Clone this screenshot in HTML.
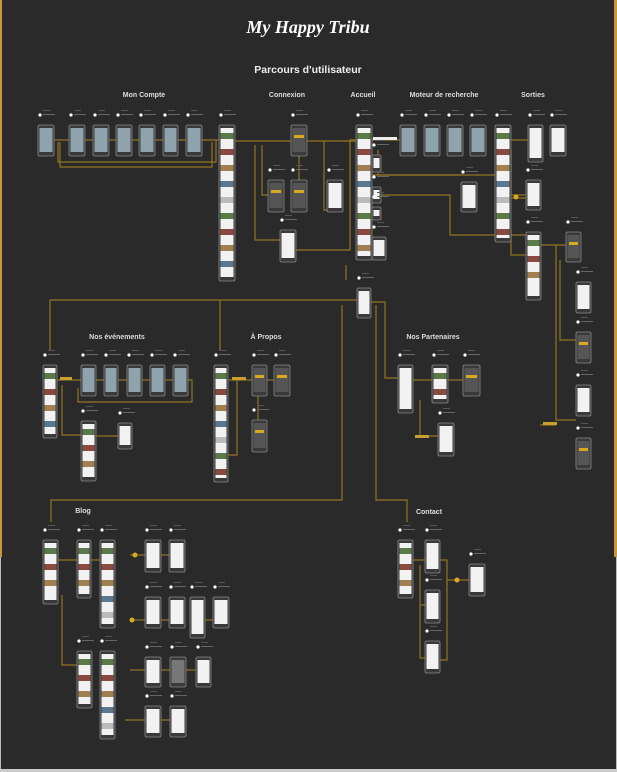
<!DOCTYPE html>
<html><head><meta charset="utf-8"><style>
html,body{margin:0;padding:0;background:#2a2a2a;width:617px;height:772px;overflow:hidden}
svg{display:block}
</style></head><body>
<svg id="s" width="617" height="772" viewBox="0 0 617 772" xmlns="http://www.w3.org/2000/svg" font-family="Liberation Sans, sans-serif">
<rect x="0" y="0" width="617" height="772" fill="#2a2a2a"/>
<rect x="0" y="0" width="2" height="557" fill="#c9963c"/>
<rect x="614" y="0" width="3" height="557" fill="#c9963c"/>
<rect x="0" y="557" width="1" height="215" fill="#bbb"/>
<rect x="616" y="557" width="1" height="215" fill="#bbb"/>
<rect x="0" y="769" width="617" height="3" fill="#ccc"/>
<text x="308" y="33" text-anchor="middle" fill="#fff" font-family="Liberation Serif, serif" font-style="italic" font-weight="bold" font-size="18">My Happy Tribu</text>
<text x="308" y="73" text-anchor="middle" fill="#eee" font-weight="bold" font-size="10.5">Parcours d'utilisateur</text>
<g fill="#ddd" font-weight="bold" font-size="7" text-anchor="middle">
<text x="144" y="97">Mon Compte</text>
<text x="287" y="97">Connexion</text>
<text x="363" y="97">Accueil</text>
<text x="444" y="97">Moteur de recherche</text>
<text x="533" y="97">Sorties</text>
<text x="117" y="339">Nos événements</text>
<text x="266" y="339">À Propos</text>
<text x="433" y="339">Nos Partenaires</text>
<text x="83" y="513">Blog</text>
<text x="429" y="514">Contact</text>
</g>
<g id="lines" fill="none" stroke="#937420" stroke-width="1.2"></g>
<g id="ph"></g>
</svg>
<script>
var L=document.getElementById('lines'),P=document.getElementById('ph'),NS='http://www.w3.org/2000/svg';
function el(t,a,p){var e=document.createElementNS(NS,t);for(var k in a)e.setAttribute(k,a[k]);(p||P).appendChild(e);return e;}
var lines=[
"M54,140H219","M58,142V162H216V140","M60,142V167H212V142",
"M235,141H291","M307,141H356","M255,145V240H280","M262,145V195H268","M324,141V210H327","M299,156V180",
"M296,250H350V140H356","M372,140H400","M378,150V175H495","M372,175H461","M372,195H450V235H526",
"M511,140H528","M511,150V195H526","M505,198H526","M511,230V255H526","M541,245H566","M556,245V420H576","M560,260V340H576",
"M346,265V280","M50,300H357","M50,300V350","M220,300V350","M371,302H385V378H398","M342,305V500H51V522","M376,305V500H407V522",
"M57,380H81","M96,380H104","M118,380H127","M142,380H150","M165,380H173","M188,380H192V402H78V388",
"M62,385V435H81","M96,436H118","M228,380H252","M237,380V455H228","M258,396V420","M267,380H274",
"M413,380H432","M448,380H463","M420,400V436H438","M540,425H556",
"M58,560H77","M91,560H100","M130,555H145","M161,555H169","M130,620H145","M161,620H169","M205,620H213",
"M62,595V665H77","M130,670H145","M161,670H170","M186,670H196","M125,720H145","M161,720H170",
"M413,560H425","M420,565V605H425","M420,605V658H425","M440,560H447V660H440","M447,580H469"
];
lines.forEach(function(d){el('path',{d:d},L);});
[[60,377,12,3],[81,437,14,3],[232,377,14,3],[415,435,14,3],[543,422,14,3],[373,137,24,3]].forEach(function(b){el('rect',{x:b[0],y:b[1],width:b[2],height:b[3],fill:b[0]==373?'#eee':'#c9a030'});});
[[516,197],[457,580],[135,555],[132,620]].forEach(function(c){el('circle',{cx:c[0],cy:c[1],r:2.5,fill:'#d9a920'});});
var B='#8fa3ad',D='#555',W='#f2f2f2';
var phones=[
[38,54,125,156,B],[69,85,125,156,B],[93,109,125,156,B],[116,132,125,156,B],[139,155,125,156,B],[163,178,125,156,B],[186,202,125,156,B],
[219,235,125,281,'img'],[291,307,125,156,D],[268,284,180,212,D],[291,307,180,212,D],[327,343,180,212,W],[280,296,230,262,W],
[356,372,125,260,'img'],[372,381,155,172,'img'],[372,381,187,203,'img'],[372,381,207,220,'img'],[372,386,237,260,W],
[400,416,125,156,B],[424,440,125,156,B],[447,463,125,156,B],[470,486,125,156,B],
[495,511,125,242,'img'],[528,543,125,162,W],[550,566,125,156,W],[461,477,182,212,W],[526,541,180,210,W],
[526,541,232,300,'img'],[566,581,232,262,D],[576,591,282,313,W],[357,371,288,318,W],
[576,591,332,363,D],[576,591,385,416,W],[576,591,438,469,D],
[43,57,365,438,'img'],[81,96,365,396,B],[104,118,365,396,B],[127,142,365,396,B],[150,165,365,396,B],[173,188,365,396,B],
[81,96,421,481,'img'],[118,132,423,449,W],
[214,228,365,482,'img'],[252,267,365,396,D],[274,290,365,396,D],[252,267,420,452,D],
[398,413,365,413,W],[432,448,365,403,'img'],[463,480,365,396,D],[438,454,423,456,W],
[43,58,540,604,'img'],[77,91,540,598,'img'],[100,115,540,628,'img'],[145,161,540,572,W],[169,185,540,572,W],
[145,161,597,628,W],[169,185,597,628,W],[190,205,597,638,W],[213,229,597,628,W],
[77,92,651,708,'img'],[100,115,651,739,'img'],[145,161,657,687,W],[170,186,657,687,'#777'],[196,211,657,687,W],
[145,161,706,737,W],[170,186,706,737,W],
[398,413,540,598,'img'],[425,440,540,573,W],[425,440,590,623,W],[425,440,641,673,W],[469,485,564,596,W]
];
var imgs=['#5a7a4a','#8a4a40','#a08050','#5a7890','#bbb'];
phones.forEach(function(p){
 var x=p[0],w=p[1]-p[0],y=p[2],h=p[3]-p[2];
 el('rect',{x:x,y:y,width:w,height:h,rx:1.5,fill:'#3a3a3a',stroke:'#888','stroke-width':0.8});
 var sc=p[4]=='img'?W:p[4];
 el('rect',{x:x+1.5,y:y+3,width:w-3,height:h-7,fill:sc});
 if(p[4]=='img'){for(var yy=y+8,i=0;yy<y+h-12;yy+=16,i++){el('rect',{x:x+1.5,y:yy,width:w-3,height:6,fill:imgs[i%5]});}}
 if(sc==D){el('rect',{x:x+3,y:y+10,width:w-6,height:3,fill:'#d9a920'});}
 if(w<25){el('circle',{cx:x+2,cy:y-10,r:1.6,fill:'#fff'});el('rect',{x:x+5,y:y-11,width:12,height:1,fill:'#666'});el('rect',{x:x+5,y:y-15,width:7,height:1,fill:'#555'});}
});
</script>
</body></html>
